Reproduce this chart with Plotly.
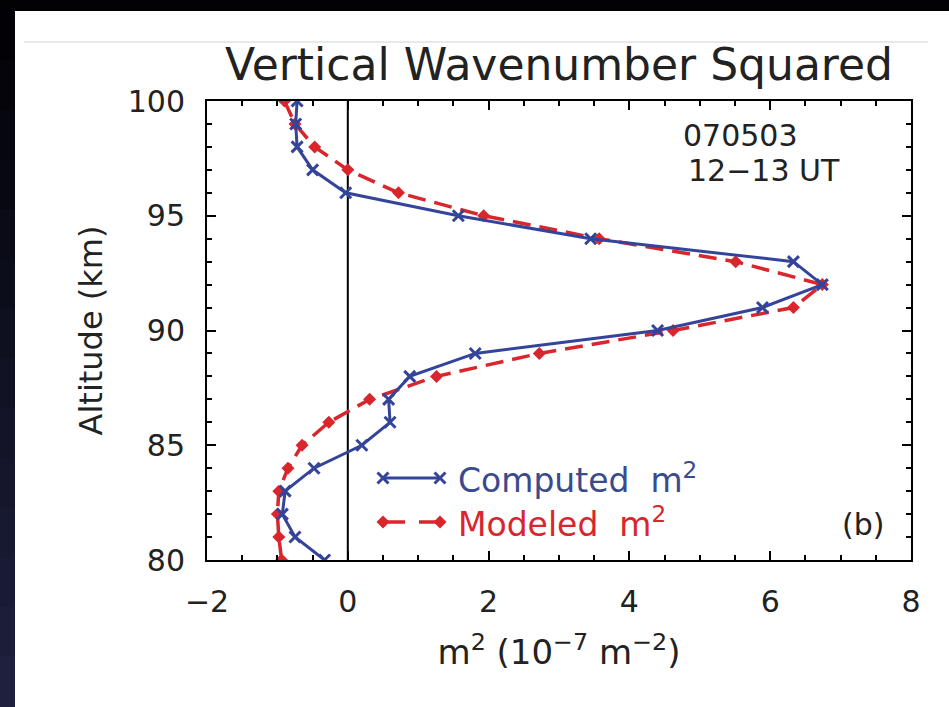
import plotly.graph_objects as go

# ---------------- data ----------------
altitude = [80, 81, 82, 83, 84, 85, 86, 87, 88, 89, 90,
            91, 92, 93, 94, 95, 96, 97, 98, 99, 100]
computed_m2 = [-0.33, -0.75, -0.93, -0.89, -0.48, 0.20, 0.60, 0.58, 0.88, 1.81, 4.40,
               5.89, 6.74, 6.33, 3.45, 1.57, -0.03, -0.50, -0.72, -0.74, -0.72]
modeled_m2 = [-0.94, -0.98, -1.00, -0.98, -0.85, -0.65, -0.27, 0.31, 1.26, 2.72, 4.62,
              6.33, 6.74, 5.51, 3.57, 1.93, 0.72, 0.00, -0.47, -0.75, -0.90]
x_ticks = [-2, 0, 2, 4, 6, 8]
y_ticks = [80, 85, 90, 95, 100]

# ---------------- geometry ----------------
W, H = 949, 707
ML, MR, MT, MB = 207, 38, 101, 147
PW, PH = W - ML - MR, H - MT - MB


def px(xp):
    return (xp - ML) / PW


def py(yp):
    return 1 - (yp - MT) / PH


FONT = "DejaVu Sans"
BLUE = "#33449a"
RED = "#d8262c"
TXT = "#222222"

fig = go.Figure()

fig.add_trace(go.Scatter(
    x=modeled_m2, y=altitude, mode="lines+markers", name="Modeled m²",
    line=dict(color=RED, width=3.5, dash="18px,9px"),
    marker=dict(symbol="diamond", size=10, color=RED),
    showlegend=False))
fig.add_trace(go.Scatter(
    x=computed_m2, y=altitude, mode="lines+markers", name="Computed m²",
    line=dict(color=BLUE, width=3),
    marker=dict(symbol="x-thin", size=11, color=BLUE, line=dict(color=BLUE, width=3)),
    showlegend=False))

# manual legend samples on an invisible overlay axis (0..1)
leg_x = [px(383), px(440)]
fig.add_trace(go.Scatter(
    x=leg_x, y=[py(478)] * 2, xaxis="x2", yaxis="y2", mode="lines+markers",
    line=dict(color=BLUE, width=3),
    marker=dict(symbol="x-thin", size=11, color=BLUE, line=dict(color=BLUE, width=3)),
    showlegend=False, hoverinfo="skip"))
fig.add_trace(go.Scatter(
    x=leg_x, y=[py(522)] * 2, xaxis="x2", yaxis="y2", mode="lines+markers",
    line=dict(color=RED, width=3.5, dash="22px,14px"),
    marker=dict(symbol="diamond", size=10, color=RED),
    showlegend=False, hoverinfo="skip"))

shapes = []
# vertical zero line
shapes.append(dict(type="line", xref="x", yref="paper", x0=0, x1=0, y0=0, y1=1,
                   line=dict(color="black", width=2), layer="below"))
# dark frame: top band and left gradient band
shapes.append(dict(type="rect", xref="paper", yref="paper",
                   x0=px(0), x1=px(W), y0=py(0), y1=py(11),
                   fillcolor="#020204", line=dict(width=0)))
n = 14
for i in range(n):
    t = i / (n - 1)
    r = int(2 + 28 * t)
    g = int(2 + 30 * t)
    b = int(6 + 56 * t)
    y0 = 11 + (H - 11) * i / n
    y1 = 11 + (H - 11) * (i + 1) / n
    shapes.append(dict(type="rect", xref="paper", yref="paper",
                       x0=px(0), x1=px(15), y0=py(y0 - 1), y1=py(y1),
                       fillcolor=f"rgb({r},{g},{b})", line=dict(width=0)))
# faint rule under the slide top
shapes.append(dict(type="line", xref="paper", yref="paper",
                   x0=px(24), x1=px(928), y0=py(42), y1=py(42),
                   line=dict(color="#e2e2e2", width=1.5)))

annotations = [
    dict(text="070503", xref="paper", yref="paper", x=px(681), y=py(135),
         xanchor="left", yanchor="middle", showarrow=False,
         font=dict(family=FONT, size=30, color=TXT)),
    dict(text="12−13 UT", xref="paper", yref="paper", x=px(686), y=py(170),
         xanchor="left", yanchor="middle", showarrow=False,
         font=dict(family=FONT, size=30, color=TXT)),
    dict(text="(b)", xref="paper", yref="paper", x=px(863), y=py(524),
         xanchor="center", yanchor="middle", showarrow=False,
         font=dict(family=FONT, size=30, color=TXT)),
    dict(text="Computed  m<sup>2</sup>", xref="paper", yref="paper", x=px(456), y=py(478),
         xanchor="left", yanchor="middle", showarrow=False,
         font=dict(family=FONT, size=33, color="#3a4a8e")),
    dict(text="Modeled  m<sup>2</sup>", xref="paper", yref="paper", x=px(456), y=py(522),
         xanchor="left", yanchor="middle", showarrow=False,
         font=dict(family=FONT, size=33, color=RED)),
]

axis_common = dict(
    showline=True, linecolor="black", linewidth=2, mirror="allticks",
    ticks="inside", ticklen=9, tickwidth=2, tickcolor="black",
    showgrid=False, zeroline=False,
    tickfont=dict(family=FONT, size=30, color=TXT),
    ticklabelstandoff=14,
)

fig.update_layout(
    width=W, height=H,
    margin=dict(l=ML, r=MR, t=MT, b=MB, pad=0),
    paper_bgcolor="white", plot_bgcolor="white",
    title=dict(text="Vertical Wavenumber Squared", x=0.5, xref="paper", xanchor="center",
               y=1 - 65 / H, yref="container", yanchor="middle",
               font=dict(family=FONT, size=44, color=TXT)),
    xaxis=dict(range=[-2, 8], tickvals=x_ticks,
               minor=dict(ticks="inside", dtick=0.5, ticklen=5, tickwidth=1.5, tickcolor="black"),
               title=dict(text="m<sup>2</sup> (10<sup>−7</sup> m<sup>−2</sup>)", standoff=22,
                          font=dict(family=FONT, size=34, color=TXT)),
               **axis_common),
    yaxis=dict(range=[80, 100], tickvals=y_ticks,
               minor=dict(ticks="inside", dtick=1, ticklen=5, tickwidth=1.5, tickcolor="black"),
               title=dict(text="Altitude (km)", standoff=16,
                          font=dict(family=FONT, size=32, color=TXT)),
               **axis_common),
    xaxis2=dict(overlaying="x", range=[0, 1], visible=False),
    yaxis2=dict(overlaying="y", range=[0, 1], visible=False),
    shapes=shapes,
    annotations=annotations,
    showlegend=False,
)

fig.write_html(
    "out.html",
    config={"displayModeBar": False},
    post_script="document.body.style.margin='0';document.body.style.overflow='hidden';",
)
